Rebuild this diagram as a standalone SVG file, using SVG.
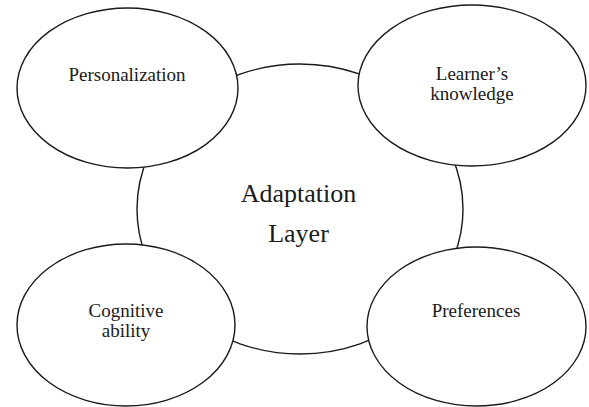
<svg xmlns="http://www.w3.org/2000/svg" width="589" height="407" viewBox="0 0 589 407">
<style>
.e{fill:#fff;stroke:#1a1a1a;stroke-width:1.4}
.t{font-size:19px;fill:#1a1a1a;text-anchor:middle}
.b{font-size:26px;fill:#1a1a1a;text-anchor:middle}
</style>
<rect width="589" height="407" fill="#fff"/>
<g id="adaptation-layer">
<ellipse class="e" cx="300" cy="209" rx="163" ry="145"/>
<text class="b" font-family="'Liberation Serif', serif" x="298.5" y="202">Adaptation</text>
<text class="b" font-family="'Liberation Serif', serif" x="298.5" y="242">Layer</text>
</g>
<g id="connectors"></g>
<g id="personalization">
<ellipse class="e" cx="127.5" cy="88" rx="110.5" ry="80"/>
<text class="t" font-family="'Liberation Serif', serif" x="127" y="81">Personalization</text>
</g>
<g id="learners-knowledge">
<ellipse class="e" cx="472" cy="85.5" rx="114" ry="80.5"/>
<text class="t" font-family="'Liberation Serif', serif" x="472" y="80">Learner’s</text>
<text class="t" font-family="'Liberation Serif', serif" x="472" y="100">knowledge</text>
</g>
<g id="cognitive-ability">
<ellipse class="e" cx="126" cy="325" rx="109" ry="81"/>
<text class="t" font-family="'Liberation Serif', serif" x="126" y="317">Cognitive</text>
<text class="t" font-family="'Liberation Serif', serif" x="126" y="337">ability</text>
</g>
<g id="preferences">
<ellipse class="e" cx="476.5" cy="326.5" rx="109.5" ry="79.5"/>
<text class="t" font-family="'Liberation Serif', serif" x="476" y="317">Preferences</text>
</g>
</svg>
